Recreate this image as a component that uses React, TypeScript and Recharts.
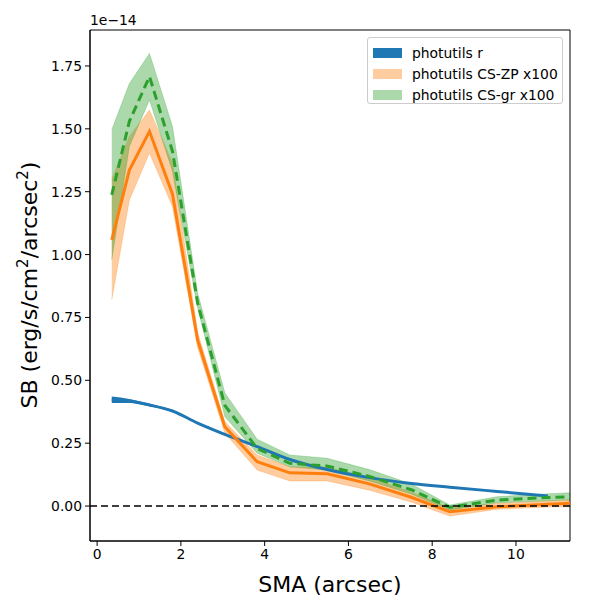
import {
  ComposedChart,
  Area,
  Line,
  XAxis,
  YAxis,
  ReferenceLine,
  ReferenceArea,
} from "recharts";

// semi-major axis (arcsec) of the CS profiles
const sma = [0.35, 0.77, 1.25, 1.8, 2.4, 3.05, 3.82, 4.6, 5.49, 6.5, 7.5, 8.42, 9.55, 10.9, 11.29];
// surface brightness, units of 1e-14 erg/s/cm2/arcsec2
const zp = [1.058, 1.336, 1.49, 1.24, 0.66, 0.315, 0.176, 0.132, 0.128, 0.088, 0.035, -0.023, -0.003, 0.008, 0.011];
const zpLo = [0.82, 1.217, 1.404, 1.19, 0.63, 0.29, 0.143, 0.1, 0.1, 0.063, 0.016, -0.04, -0.013, -0.003, -0.003];
const zpHi = [1.3, 1.47, 1.575, 1.364, 0.69, 0.335, 0.203, 0.156, 0.155, 0.113, 0.055, -0.008, 0.011, 0.022, 0.024];
const gr = [1.237, 1.53, 1.708, 1.41, 0.807, 0.4, 0.229, 0.17, 0.159, 0.118, 0.065, -0.005, 0.024, 0.035, 0.037];
const grLo = [0.98, 1.43, 1.615, 1.33, 0.788, 0.355, 0.21, 0.156, 0.143, 0.1, 0.048, -0.016, 0.013, 0.022, 0.024];
const grHi = [1.496, 1.68, 1.8, 1.509, 0.847, 0.45, 0.266, 0.203, 0.19, 0.145, 0.088, 0.004, 0.037, 0.05, 0.053];

// photutils r profile
const rSma = [0.35, 0.77, 1.25, 1.8, 2.4, 3.05, 3.82, 4.6, 5.49, 6.5, 7.5, 8.42, 9.55, 10.76];
const r = [0.424, 0.418, 0.402, 0.378, 0.33, 0.285, 0.236, 0.185, 0.145, 0.113, 0.09, 0.075, 0.058, 0.04];
const rLo = [0.41, 0.41, 0.397, 0.374, 0.327, 0.282, 0.233, 0.182, 0.143, 0.111, 0.088, 0.073, 0.056, 0.038];
const rHi = [0.436, 0.426, 0.407, 0.382, 0.333, 0.288, 0.239, 0.188, 0.147, 0.115, 0.092, 0.077, 0.06, 0.042];

const xTicks = [0, 2, 4, 6, 8, 10];
const yTicks = [0, 0.25, 0.5, 0.75, 1, 1.25, 1.5, 1.75];

const X_MIN = -0.17;
const X_MAX = 11.29;
const Y_MIN = -0.139;
const Y_MAX = 1.893;

type Row = { sma: number; [k: string]: number | number[] | null };

const rows = new Map<number, Row>();
const row = (x: number) => {
  if (!rows.has(x)) rows.set(x, { sma: x });
  return rows.get(x)!;
};
sma.forEach((x, i) => {
  const o = row(x);
  o.zp = zp[i];
  o.zpBand = [zpLo[i], zpHi[i]];
  o.gr = gr[i];
  o.grBand = [grLo[i], grHi[i]];
});
rSma.forEach((x, i) => {
  const o = row(x);
  o.r = r[i];
  o.rBand = [rLo[i], rHi[i]];
});
const data = Array.from(rows.values()).sort((a, b) => a.sma - b.sma);

const font = "'DejaVu Sans', sans-serif";
const tickStyle = { fontSize: 13.9, fill: "#000", fontFamily: font };

const legendItems = [
  { name: "photutils r", color: "#1f77b4", opacity: 1 },
  { name: "photutils CS-ZP x100", color: "#ff7f0e", opacity: 0.4 },
  { name: "photutils CS-gr x100", color: "#2ca02c", opacity: 0.4 },
];

const YLabel = () => (
  <text
    x={37}
    y={285}
    transform="rotate(-90 37 285)"
    textAnchor="middle"
    fontSize={22}
    fontFamily={font}
    fill="#000"
  >
    SB (erg/s/cm
    <tspan fontSize={15} dy={-9}>2</tspan>
    <tspan dy={9}>/arcsec</tspan>
    <tspan fontSize={15} dy={-9}>2</tspan>
    <tspan dy={9}>)</tspan>
  </text>
);

export default function App() {
  return (
    <div style={{ position: "absolute", left: 0, top: 0, width: 600, height: 600, background: "#fff" }}>
      <ComposedChart
        width={600}
        height={600}
        data={data}
        margin={{ top: 30, right: 30, left: 0, bottom: 0 }}
      >
        <XAxis
          dataKey="sma"
          type="number"
          domain={[X_MIN, X_MAX]}
          ticks={xTicks}
          allowDataOverflow
          height={59}
          tick={tickStyle}
          tickSize={5}
          tickMargin={3}
          stroke="#000"
          label={{
            value: "SMA (arcsec)",
            position: "insideBottom",
            offset: 8,
            style: { fontSize: 22, fill: "#000", fontFamily: font },
          }}
        />
        <YAxis
          type="number"
          domain={[Y_MIN, Y_MAX]}
          ticks={yTicks}
          allowDataOverflow
          width={90}
          tick={tickStyle}
          tickSize={5}
          tickMargin={3}
          stroke="#000"
          tickFormatter={(v: number) => v.toFixed(2)}
          label={<YLabel />}
        />
        <Area
          dataKey="rBand"
          type="monotone"
          stroke="none"
          fill="#1f77b4"
          fillOpacity={1}
          connectNulls
          isAnimationActive={false}
        />
        <Area
          dataKey="zpBand"
          type="linear"
          stroke="#ff7f0e"
          strokeOpacity={0.25}
          fill="#ff7f0e"
          fillOpacity={0.4}
          connectNulls
          isAnimationActive={false}
        />
        <Area
          dataKey="grBand"
          type="linear"
          stroke="#2ca02c"
          strokeOpacity={0.25}
          fill="#2ca02c"
          fillOpacity={0.4}
          connectNulls
          isAnimationActive={false}
        />
        <Line
          dataKey="r"
          type="monotone"
          stroke="#1f77b4"
          strokeWidth={3}
          dot={false}
          connectNulls
          isAnimationActive={false}
        />
        <Line
          dataKey="zp"
          type="linear"
          stroke="#ff7f0e"
          strokeWidth={3}
          dot={false}
          connectNulls
          isAnimationActive={false}
        />
        <Line
          dataKey="gr"
          type="linear"
          stroke="#2ca02c"
          strokeWidth={3}
          strokeDasharray="9 5"
          dot={false}
          connectNulls
          isAnimationActive={false}
        />
        <ReferenceLine y={0} stroke="#000" strokeWidth={1.6} strokeDasharray="7 4" />
        <ReferenceArea
          x1={X_MIN}
          x2={X_MAX}
          y1={Y_MIN}
          y2={Y_MAX}
          fill="none"
          stroke="#000"
          strokeWidth={1}
          fillOpacity={0}
          ifOverflow="extendDomain"
        />
        <text x={90} y={25} fontSize={13.9} fontFamily={font} fill="#000">
          1e−14
        </text>
      </ComposedChart>
      <div
        style={{
          position: "absolute",
          left: 367,
          top: 37,
          width: 196,
          height: 67,
          boxSizing: "border-box",
          border: "1px solid #ccc",
          borderRadius: 3,
          background: "rgba(255,255,255,0.8)",
          fontFamily: font,
          fontSize: 13.9,
          padding: "4px 0 0 5px",
        }}
      >
        {legendItems.map((it) => (
          <div key={it.name} style={{ display: "flex", alignItems: "center", height: 21 }}>
            <span
              style={{
                display: "inline-block",
                width: 29,
                height: 10,
                background: it.color,
                opacity: it.opacity,
                marginRight: 10,
              }}
            />
            <span>{it.name}</span>
          </div>
        ))}
      </div>
    </div>
  );
}
